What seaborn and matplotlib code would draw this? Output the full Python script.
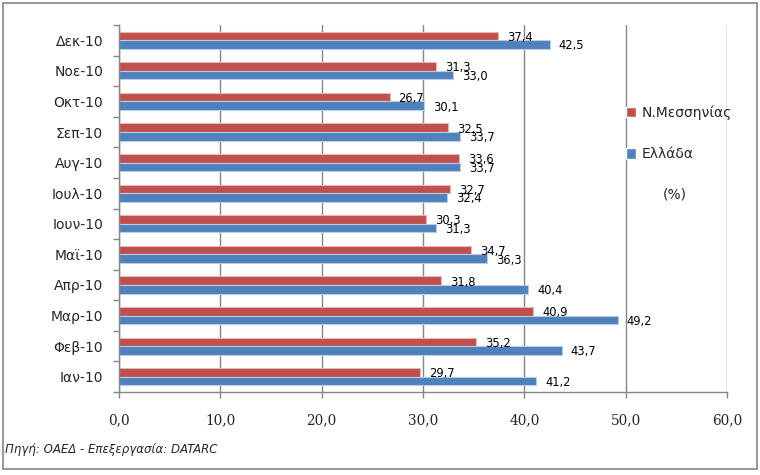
import matplotlib
matplotlib.use("Agg")
import matplotlib.pyplot as plt
from matplotlib.patches import Rectangle
from matplotlib.ticker import FixedLocator, FuncFormatter
import seaborn as sns
import pandas as pd

# ---- data ----
months = ["Δεκ-10", "Νοε-10", "Οκτ-10", "Σεπ-10", "Αυγ-10", "Ιουλ-10",
          "Ιουν-10", "Μαϊ-10", "Απρ-10", "Μαρ-10", "Φεβ-10", "Ιαν-10"]
messinia = [37.4, 31.3, 26.7, 32.5, 33.6, 32.7, 30.3, 34.7, 31.8, 40.9, 35.2, 29.7]
ellada = [42.5, 33.0, 30.1, 33.7, 33.7, 32.4, 31.3, 36.3, 40.4, 49.2, 43.7, 41.2]
series_names = ["Ν.Μεσσηνίας", "Ελλάδα"]
x_ticks = [0, 10, 20, 30, 40, 50, 60]
source_text = "Πηγή: ΟΑΕΔ - Επεξεργασία: DATARC"
unit_text = "(%)"

df = pd.DataFrame({
    "month": months * 2,
    "value": messinia + ellada,
    "series": [series_names[0]] * len(months) + [series_names[1]] * len(months),
})

sns.set_style("white")
plt.rcParams["font.family"] = ["DejaVu Sans"]

W, H = 760, 475
fig = plt.figure(figsize=(W / 100, H / 100), dpi=100)
ax = fig.add_axes([119 / W, 1 - 392 / H, (727 - 119) / W, (392 - 25) / H])

red, blue = "#C0504D", "#4F81BD"
sns.barplot(data=df, x="value", y="month", hue="series", order=months,
            hue_order=series_names, palette=[red, blue], orient="h",
            width=0.56, saturation=1, errorbar=None, ax=ax, legend=True)

edge_cols = {0: "#E8B5B4", 1: "#B7CBE5"}
for i, cont in enumerate(ax.containers):
    for p, v in zip(cont.patches, cont.datavalues):
        p.set_edgecolor(edge_cols[i])
        p.set_linewidth(0.8)
        yc = p.get_y() + p.get_height() / 2
        ax.annotate(f"{v:.1f}".replace(".", ","), xy=(p.get_width(), yc),
                    xytext=(6.5, -1), textcoords="offset points",
                    ha="left", va="center", fontsize=8.3, color="black")

gray = "#868686"
ax.set_xlim(0, 60)
ax.set_ylim(11.5, -0.5)
ax.xaxis.set_major_locator(FixedLocator(x_ticks))
ax.xaxis.set_major_formatter(FuncFormatter(lambda v, p: f"{v:.1f}".replace(".", ",")))
ax.grid(axis="x", color=gray, linewidth=1)
ax.grid(axis="y", visible=False)
ax.set_axisbelow(True)
for s in ["top", "right"]:
    ax.spines[s].set_visible(False)
for s in ["left", "bottom"]:
    ax.spines[s].set_color(gray)
    ax.spines[s].set_linewidth(1)
ax.set_xlabel("")
ax.set_ylabel("")

ax.tick_params(axis="x", which="major", length=4, color=gray, width=1,
               direction="out", bottom=True, pad=11, labelsize=9.8)
for t in ax.get_xticklabels():
    t.set_fontfamily("DejaVu Serif")
ax.yaxis.set_minor_locator(FixedLocator([i - 0.5 for i in range(len(months) + 1)]))
ax.tick_params(axis="y", which="minor", length=4, color=gray, width=1,
               direction="out", left=True)
ax.tick_params(axis="y", which="major", length=0, pad=11.5, labelsize=10)

# legend
h, l = ax.get_legend_handles_labels()
ax.get_legend().remove()
fig.legend(h, l, loc="upper left", bbox_to_anchor=(626 / W, 1 - 105 / H),
           frameon=False, fontsize=10, handlelength=0.75, handleheight=0.75,
           handletextpad=0.4, labelspacing=2.0, borderpad=0, borderaxespad=0)
fig.text(675 / W, 1 - 194 / H, unit_text, fontsize=10, ha="center", va="center")

fig.text(5 / W, 1 - 449 / H, source_text, fontsize=8.5, style="italic",
         ha="left", va="center")

fig.patches.append(Rectangle((2.5 / W, 1 - 469 / H), 754.5 / W, 466 / H,
                             transform=fig.transFigure, fill=False,
                             edgecolor=gray, linewidth=1.2))

fig.savefig("out.png", dpi=100)
